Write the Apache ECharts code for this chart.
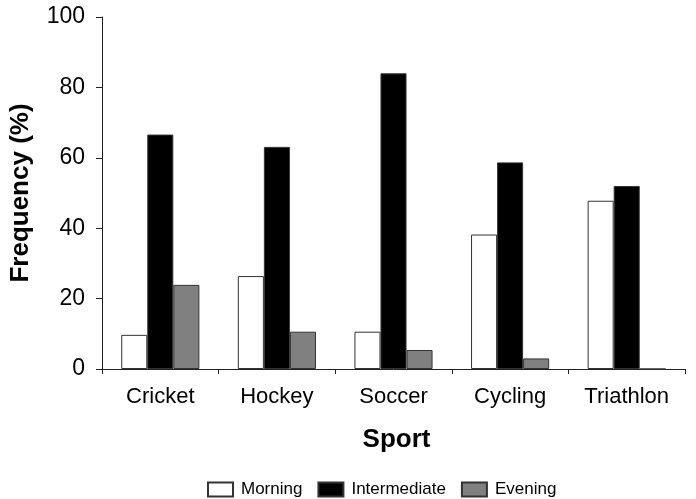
<!DOCTYPE html>
<html>
<head>
<meta charset="utf-8">
<script src="https://cdn.jsdelivr.net/npm/echarts@6/dist/echarts.min.js"></script>
<style>html,body{margin:0;padding:0;background:#fff}#c{width:696px;height:499px}</style>
</head>
<body>
<div id="c"></div>
<script>
const categories = ["Cricket", "Hockey", "Soccer", "Cycling", "Triathlon"];
const morning = [9.7, 26.4, 10.6, 38.2, 47.8];
const intermediate = [66.6, 63.1, 84.0, 58.7, 52.0];
const evening = [23.9, 10.6, 5.4, 3.0, 0];
const yTicks = [0, 20, 40, 60, 80, 100];

const chart = echarts.init(document.getElementById('c'), null, {renderer: 'canvas'});
const font = 'Liberation Sans, Arial, sans-serif';
function bar(name, data, color) {
  return {
    name, type: 'bar', data,
    barGap: '0%', barCategoryGap: '33%',
    itemStyle: {color, borderColor: '#333', borderWidth: 1},
    emphasis: {disabled: true}
  };
}
chart.setOption({
  animation: false,
  backgroundColor: '#fff',
  textStyle: {fontFamily: font},
  grid: {left: 102, right: 11, top: 17, bottom: 130, containLabel: false},
  legend: {
    top: 476, left: 202,
    icon: 'rect',
    itemWidth: 25, itemHeight: 14, itemGap: 15,
    textStyle: {fontFamily: font, fontSize: 17, color: '#000', padding: [0, 0, 0, 3]},
    data: ['Morning', 'Intermediate', 'Evening']
  },
  xAxis: {
    type: 'category', data: categories,
    name: 'Sport', nameLocation: 'middle', nameGap: 58,
    nameTextStyle: {fontFamily: font, fontSize: 26, fontWeight: 'bold', color: '#000', padding: [0, 0, 0, 6]},
    axisLine: {lineStyle: {color: '#222', width: 1}},
    axisTick: {show: true, length: 5, lineStyle: {color: '#222'}},
    axisLabel: {fontFamily: font, fontSize: 22, color: '#000', margin: 17}
  },
  yAxis: {
    type: 'value', min: yTicks[0], max: yTicks[yTicks.length - 1], interval: 20,
    name: 'Frequency (%)', nameLocation: 'middle', nameGap: 68,
    nameTextStyle: {fontFamily: font, fontSize: 26, fontWeight: 'bold', color: '#000'},
    axisLine: {show: true, lineStyle: {color: '#222', width: 1}},
    axisTick: {show: true, length: 6, lineStyle: {color: '#222'}},
    axisLabel: {fontFamily: font, fontSize: 23, color: '#000', margin: 17},
    splitLine: {show: false}
  },
  series: [
    bar('Morning', morning, '#ffffff'),
    bar('Intermediate', intermediate, '#000000'),
    bar('Evening', evening, '#808080')
  ]
});
</script>
</body>
</html>
